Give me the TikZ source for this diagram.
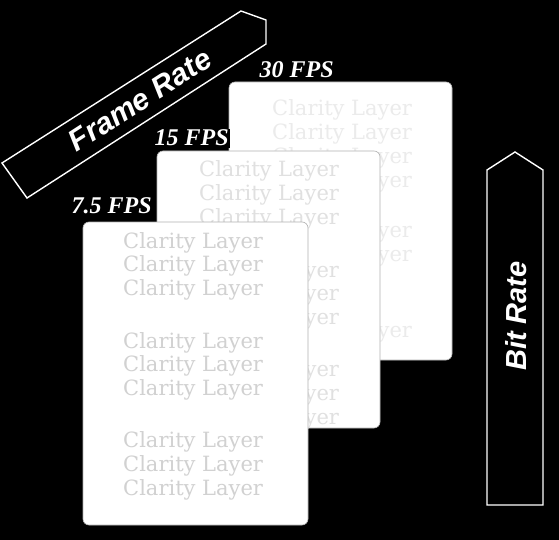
\documentclass[tikz,border=0pt]{standalone}
\usepackage{fontspec}
\newfontfamily\arrowfont{Liberation Sans}
\newfontfamily\fpsfont{Liberation Serif}
\newfontfamily\layerfont{DejaVu Serif}
\begin{document}
\begin{tikzpicture}[x=1pt,y=-1pt,
  card/.style={fill=white, draw=black!30, line width=0.6pt, rounded corners=6pt,
    inner sep=0pt, outer sep=0pt, anchor=north west},
  layer/.style={anchor=base west, inner sep=0pt, font=\layerfont\fontsize{21}{22}\selectfont},
  fps/.style={anchor=base west, fill=black, text=white, inner sep=1.5pt,
    font=\fpsfont\bfseries\itshape\fontsize{24}{24}\selectfont},
  arrowshape/.style={draw=white, fill=black, line width=1.4pt, line join=miter},
  arrowtext/.style={text=white, inner sep=0pt, font=\arrowfont\bfseries\itshape\fontsize{29}{29}\selectfont}]
\fill[black] (0,0) rectangle (559,540);
\useasboundingbox (0,0) rectangle (559,540);

% Frame Rate arrow
\draw[arrowshape] (2,163) -- (241,11) -- (266,20) -- (266,44) -- (27,198) -- cycle;
\node[arrowtext, rotate=32.8, font=\arrowfont\bfseries\itshape\fontsize{30}{30}\selectfont] (fr) at (140,100) {Frame Rate};

% Bit Rate arrow
\draw[arrowshape] (487,505) -- (487,170) -- (515,152) -- (543,170) -- (543,505) -- cycle;
\node[arrowtext, rotate=90] (br) at (516.5,316) {Bit Rate};

% Back card (30 FPS)
\node[card, minimum width=223pt, minimum height=278pt] (c30) at (229,82) {};
\foreach \y [count=\i] in {116,140,164,188,237,261,337}
  \node[layer, text=black!8] (b\i) at (272,\y) {Clarity Layer};

% Middle card (15 FPS)
\node[card, minimum width=223pt, minimum height=277pt] (c15) at (157,151) {};
\foreach \y [count=\i] in {177,200.5,224,277,300.5,324,376,400,424}
  \node[layer, text=black!12] (m\i) at (199,\y) {Clarity Layer};

% Front card (7.5 FPS)
\node[card, minimum width=225pt, minimum height=303pt] (c75) at (83,222) {};
\foreach \y [count=\i] in {248,271.5,295,348,371.5,395,447,471,495}
  \node[layer, text=black!18] (f\i) at (123,\y) {Clarity Layer};

% Labels
\node[fps] (l30) at (258,78) {30 FPS};
\node[fps] (l15) at (153,146) {15 FPS};
\node[fps] (l75) at (70,213) {7.5 FPS};
\end{tikzpicture}
\end{document}
